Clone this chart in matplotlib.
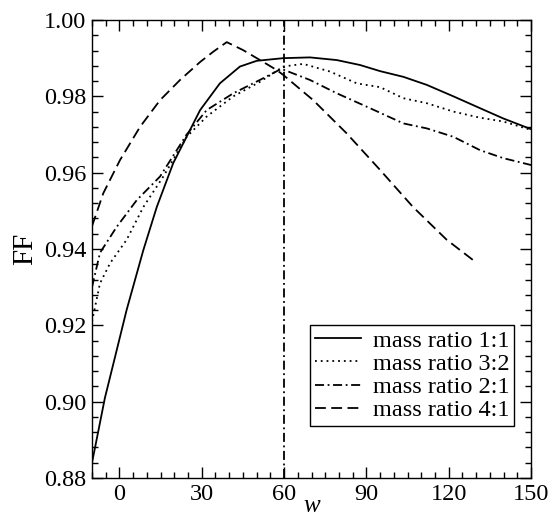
import matplotlib
matplotlib.use("Agg")
import matplotlib.pyplot as plt
from matplotlib.ticker import MultipleLocator
import numpy as np

plt.rcParams['font.family'] = ['Liberation Serif', 'DejaVu Serif']
plt.rcParams['mathtext.fontset'] = 'stix'

# mass ratio 1:1
w_11 = [-10, -5.3, -2.2, 2.6, 8.7, 13.6, 19.6, 29.4, 36.6, 43.9, 50, 59.7, 69.4, 79.2,
        87.7, 95, 103.5, 112, 121.7, 131.4, 139.9, 150]
ff_11 = [0.884, 0.901, 0.910, 0.924, 0.9397, 0.951, 0.9625, 0.9764, 0.9834, 0.9878, 0.9893,
         0.990, 0.9902, 0.9895, 0.9882, 0.9866, 0.9851, 0.983, 0.980, 0.9769, 0.9742, 0.9714]

# mass ratio 3:2
w_32 = [-10, -7.1, -3.4, 2.6, 8.7, 16, 24.5, 31.8, 41.5, 51.2, 59.7, 67, 76.7, 86.5,
        95, 103.5, 112, 121.7, 131.4, 139.9, 150]
ff_32 = [0.921, 0.931, 0.9363, 0.9424, 0.951, 0.959, 0.9694, 0.9747, 0.980, 0.9838, 0.9878,
         0.9885, 0.9865, 0.9834, 0.9824, 0.9795, 0.9782, 0.976, 0.9744, 0.9734, 0.9712]

# mass ratio 2:1
w_21 = [-10, -7.1, -1, 6.3, 14.8, 24.5, 31.8, 41.5, 51.2, 59, 69.4, 79.2, 91.3,
        103.5, 112, 121.7, 131.4, 139.9, 150]
ff_21 = [0.930, 0.939, 0.9458, 0.9528, 0.959, 0.970, 0.9764, 0.9808, 0.9843, 0.9872,
         0.9843, 0.9808, 0.9769, 0.9729, 0.9716, 0.9694, 0.9659, 0.9638, 0.962]

# mass ratio 4:1
w_41 = [-10, -5.9, 0.2, 7.5, 14.8, 22.1, 29.4, 34.2, 39.1, 45.1, 52.4, 57.3, 59.7,
        70.6, 82.8, 95, 107, 119.3, 129.6]
ff_41 = [0.946, 0.9546, 0.9633, 0.972, 0.979, 0.9843, 0.989, 0.9917, 0.9942, 0.9921,
         0.989, 0.9869, 0.9856, 0.979, 0.9703, 0.9607, 0.951, 0.9424, 0.9367]

w_opt = 60

labels = ['mass ratio 1:1', 'mass ratio 3:2', 'mass ratio 2:1', 'mass ratio 4:1']

fig = plt.figure(figsize=(5.52, 5.18), dpi=100)
ax = fig.add_axes([0.1667, 0.0772, 0.7953, 0.8842])

lw = 1.3
ax.plot(w_11, ff_11, color='black', lw=lw, linestyle='-', label=labels[0])
ax.plot(w_32, ff_32, color='black', lw=lw, linestyle=(0, (1, 2.2)), label=labels[1])
ax.plot(w_21, ff_21, color='black', lw=lw, linestyle=(0, (5, 2, 1, 2)), label=labels[2])
ax.plot(w_41, ff_41, color='black', lw=lw, linestyle=(0, (6, 3)), label=labels[3])
ax.axvline(w_opt, color='black', lw=lw, linestyle=(0, (5, 2, 1, 2)))

ax.set_xlim(-10, 150)
ax.set_ylim(0.88, 1.00)
ax.xaxis.set_major_locator(MultipleLocator(30))
ax.xaxis.set_minor_locator(MultipleLocator(5))
ax.yaxis.set_major_locator(MultipleLocator(0.02))
ax.yaxis.set_minor_locator(MultipleLocator(0.004))
ax.yaxis.set_major_formatter(matplotlib.ticker.FormatStrFormatter('%.2f'))

ax.tick_params(which='both', direction='in', top=True, right=True, labelsize=17.5, width=1.0)
ax.tick_params(which='major', length=8, pad=4)
ax.tick_params(which='minor', length=4)
for s in ax.spines.values():
    s.set_linewidth(1.0)

ax.set_xlabel('w', fontsize=18, fontstyle='italic')
ax.xaxis.set_label_coords(0.5, -0.037)
ax.set_ylabel('FF', fontsize=21, labelpad=4)

leg = ax.legend(loc='lower right', bbox_to_anchor=(0.962, 0.113), fontsize=17.5,
                frameon=True, fancybox=False, edgecolor='black', framealpha=1,
                handlelength=1.9, handletextpad=0.5, labelspacing=0.05,
                borderpad=0.2, borderaxespad=0)
leg.get_frame().set_linewidth(1.0)

fig.savefig('out.png', dpi=100)
